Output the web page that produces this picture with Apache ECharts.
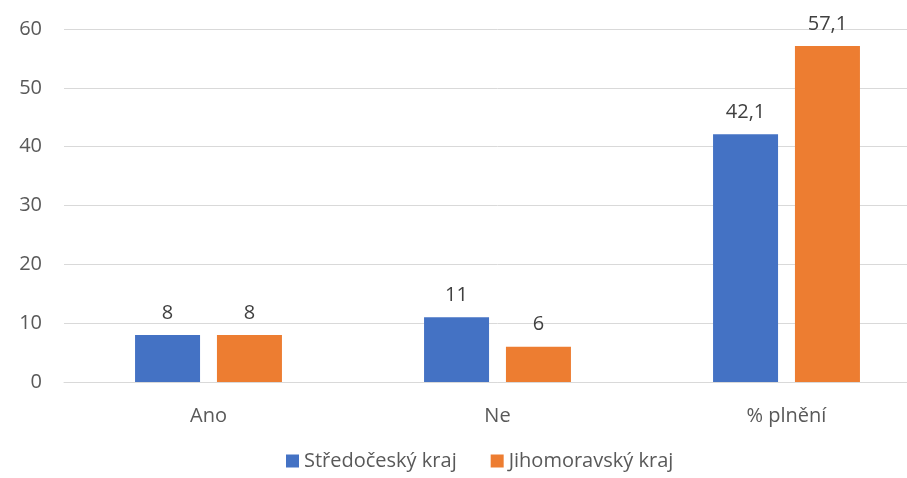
<!DOCTYPE html>
<html>
<head>
<meta charset="utf-8">
<script src="https://cdn.jsdelivr.net/npm/echarts@6/dist/echarts.min.js"></script>
<style>
  html, body { margin: 0; padding: 0; background: #fff; overflow: hidden; }
  /* plot area runs past the right edge, as in the source picture */
  #chart { width: 931px; height: 478px; }
</style>
</head>
<body>
<div id="chart"></div>
<script>
var categories = ["Ano", "Ne", "% plnění"];
var stredocesky = [8, 11, 42.1];
var jihomoravsky = [8, 6, 57.1];
var yTicks = [0, 10, 20, 30, 40, 50, 60];

(function () {
  var myChart = echarts.init(document.getElementById("chart"));
  var font = "'Open Sans', 'Noto Sans', sans-serif";
  var labelFmt = function (p) {
    return String(p.value).replace(".", ",");
  };
  var option = {
    animation: false,
    color: ["#4472C4", "#ED7D31"],
    grid: {
      left: 64,
      top: 29,
      right: 0,
      bottom: 96,
    },
    legend: {
      bottom: 2,
      left: 281,
      itemWidth: 13,
      itemHeight: 13,
      itemGap: 34,
      icon: "rect",
      textStyle: { color: "#595959", fontSize: 20, fontFamily: font },
      data: ["Středočeský kraj", "Jihomoravský kraj"],
    },
    xAxis: {
      type: "category",
      data: categories,
      axisTick: { show: false },
      axisLine: { lineStyle: { color: "#d9d9d9", width: 1 } },
      axisLabel: {
        color: "#595959",
        fontSize: 20,
        fontFamily: font,
        margin: 24,
      },
    },
    yAxis: {
      type: "value",
      min: yTicks[0],
      max: yTicks[yTicks.length - 1],
      interval: 10,
      axisLine: { show: false },
      axisTick: { show: false },
      splitLine: { lineStyle: { color: "#d9d9d9", width: 1 } },
      axisLabel: {
        color: "#595959",
        fontSize: 20,
        fontFamily: font,
        margin: 22,
      },
    },
    series: [
      {
        name: "Středočeský kraj",
        type: "bar",
        barWidth: 65,
        barGap: "26%",
        data: stredocesky,
        label: {
          show: true,
          position: "top",
          distance: 12,
          color: "#404040",
          fontSize: 20,
          fontFamily: font,
          formatter: labelFmt,
        },
      },
      {
        name: "Jihomoravský kraj",
        type: "bar",
        barWidth: 65,
        barGap: "26%",
        data: jihomoravsky,
        label: {
          show: true,
          position: "top",
          distance: 12,
          color: "#404040",
          fontSize: 20,
          fontFamily: font,
          formatter: labelFmt,
        },
      },
    ],
  };
  myChart.setOption(option);
  window.addEventListener("resize", function () {
    myChart.resize();
  });
})();
</script>
</body>
</html>
